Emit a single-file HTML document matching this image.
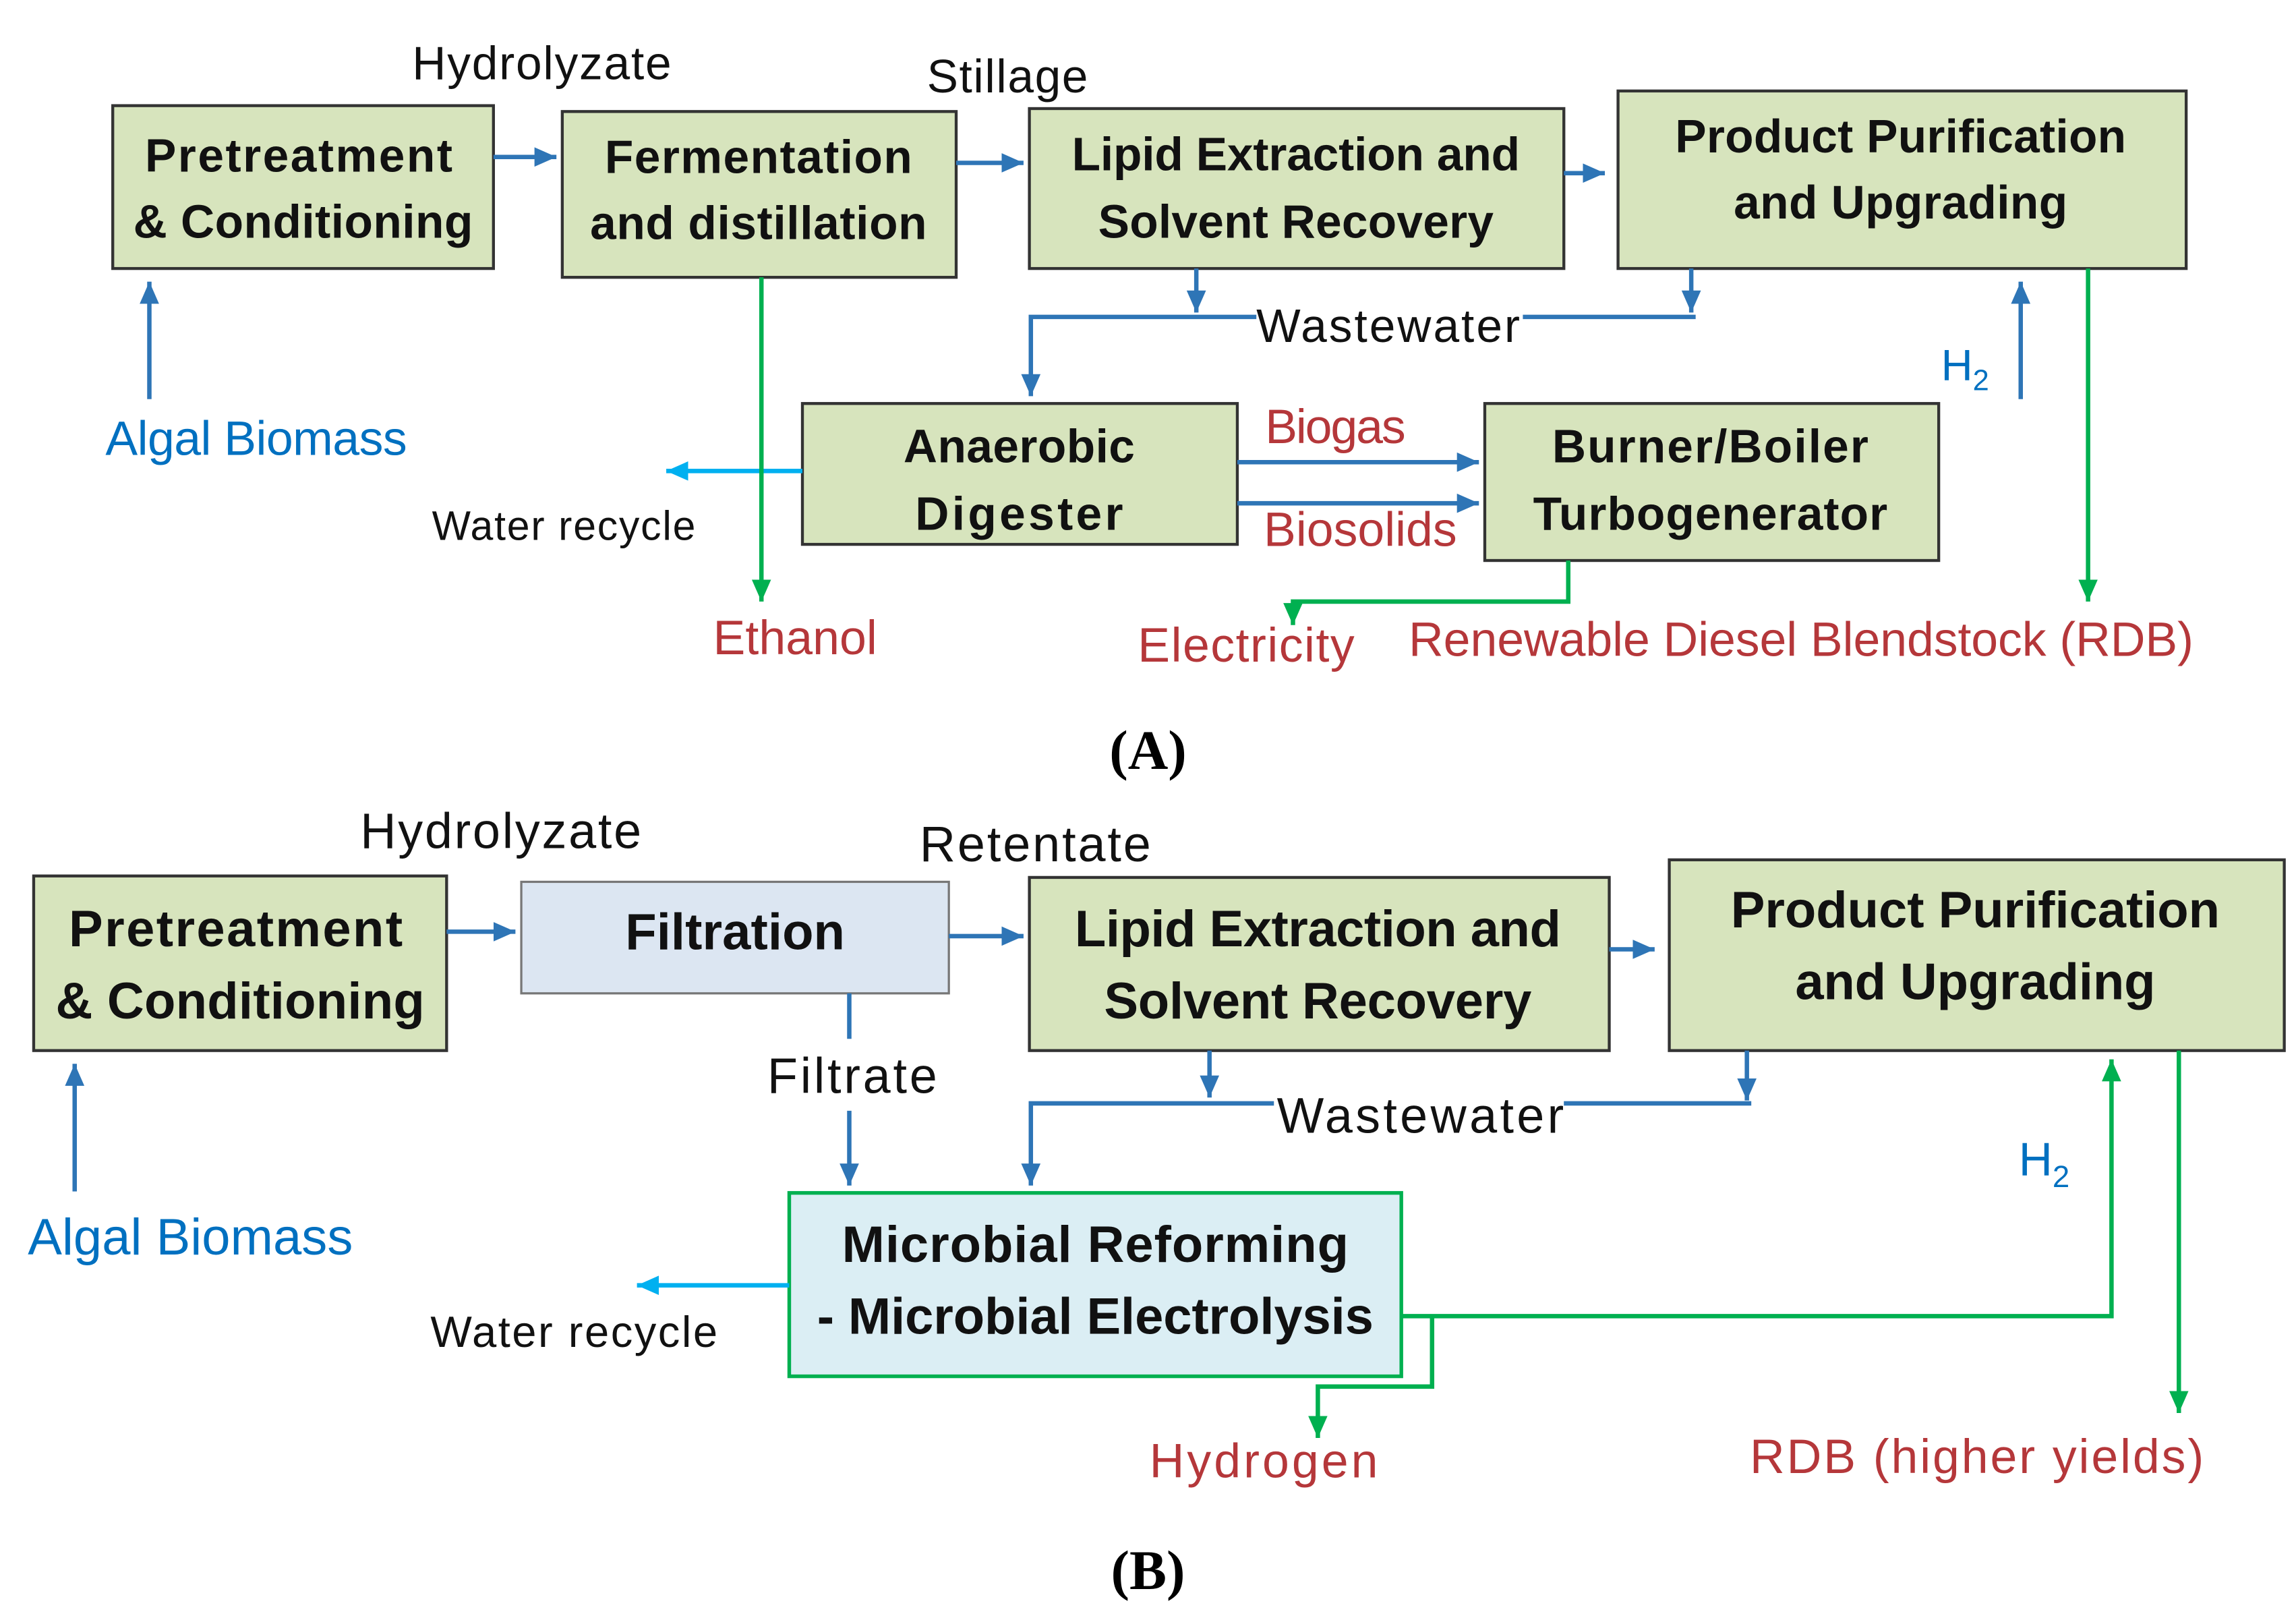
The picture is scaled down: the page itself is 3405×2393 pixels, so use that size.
<!DOCTYPE html>
<html><head><meta charset="utf-8"><style>
html,body{margin:0;padding:0;background:#fff;}
svg{display:block;}
text{font-family:"Liberation Sans",sans-serif;}
text.sf{font-family:"Liberation Serif",serif;}
.bx{font-weight:bold;fill:#111;text-anchor:middle;}
.lb{fill:#111;text-anchor:middle;}
.rd{fill:#b5373a;text-anchor:middle;font-size:33px;}
.bl{fill:#0070c0;text-anchor:middle;}
</style></head><body>
<svg width="3405" height="2393" viewBox="0 0 1568 1100" preserveAspectRatio="none" xmlns="http://www.w3.org/2000/svg">
<defs>
<marker id="ab" markerWidth="6" markerHeight="6" refX="5" refY="3" orient="auto" markerUnits="strokeWidth"><path d="M0,0.8 L5,3 L0,5.2z" fill="#2e75b6"/></marker>
<marker id="ag" markerWidth="6" markerHeight="6" refX="5" refY="3" orient="auto" markerUnits="strokeWidth"><path d="M0,0.8 L5,3 L0,5.2z" fill="#00b050"/></marker>
<marker id="al" markerWidth="6" markerHeight="6" refX="5" refY="3" orient="auto" markerUnits="strokeWidth"><path d="M0,0.8 L5,3 L0,5.2z" fill="#00b0f0"/></marker>
</defs>
<g fill="#d7e4bd" stroke="#333" stroke-width="2">
<rect x="77" y="72" width="260" height="111"/>
<rect x="384" y="76" width="269" height="113"/>
<rect x="703" y="74" width="365" height="109"/>
<rect x="1105" y="62" width="388" height="121"/>
<rect x="548" y="275" width="297" height="96"/>
<rect x="1014" y="275" width="310" height="107"/>
<rect x="23" y="597" width="282" height="119"/>
<rect x="703" y="598" width="396" height="118"/>
<rect x="1140" y="586" width="420" height="130"/>
</g>
<rect x="356" y="601" width="292" height="76" fill="#dce6f2" stroke="#777" stroke-width="1.5"/>
<rect x="539" y="813" width="418" height="125" fill="#dbeef4" stroke="#00b050" stroke-width="2.5"/>

<g class="bx" font-size="32">
<text x="204" y="117" textLength="210">Pretreatment</text><text x="207" y="162" textLength="232">&amp; Conditioning</text>
<text x="518" y="118" textLength="210">Fermentation</text><text x="518" y="163" textLength="230">and distillation</text>
<text x="885" y="116" textLength="306">Lipid Extraction and</text><text x="885" y="162" textLength="270">Solvent Recovery</text>
<text x="1298" y="104" textLength="308">Product Purification</text><text x="1298" y="149" textLength="228">and Upgrading</text>
<text x="696" y="315" textLength="158">Anaerobic</text><text x="696" y="361" textLength="142">Digester</text>
<text x="1168" y="315" textLength="216">Burner/Boiler</text><text x="1168" y="361" textLength="242">Turbogenerator</text>
</g>
<g class="bx" font-size="35">
<text x="161" y="645" textLength="228">Pretreatment</text><text x="164" y="694" textLength="252">&amp; Conditioning</text>
<text x="502" y="647" textLength="150">Filtration</text>
<text x="900" y="645" textLength="332">Lipid Extraction and</text><text x="900" y="694" textLength="292">Solvent Recovery</text>
<text x="1349" y="632" textLength="334">Product Purification</text><text x="1349" y="681" textLength="246">and Upgrading</text>
<text x="748" y="860" textLength="346">Microbial Reforming</text><text x="748" y="909" textLength="380">- Microbial Electrolysis</text>
</g>

<g stroke="#2e75b6" stroke-width="3" fill="none">
<path d="M337 107 H380" marker-end="url(#ab)"/>
<path d="M653 111 H699" marker-end="url(#ab)"/>
<path d="M1068 118 H1096" marker-end="url(#ab)"/>
<path d="M102 272 V192" marker-end="url(#ab)"/>
<path d="M817 183 V213" marker-end="url(#ab)"/>
<path d="M1155 183 V213" marker-end="url(#ab)"/>
<path d="M858 216 H704 V270" marker-end="url(#ab)"/>
<path d="M1040 216 H1158"/>
<path d="M845 315 H1010" marker-end="url(#ab)"/>
<path d="M845 343 H1010" marker-end="url(#ab)"/>
<path d="M1380 272 V192" marker-end="url(#ab)"/>
<path d="M305 635 H352" marker-end="url(#ab)"/>
<path d="M648 638 H699" marker-end="url(#ab)"/>
<path d="M1099 647 H1130" marker-end="url(#ab)"/>
<path d="M51 812 V725" marker-end="url(#ab)"/>
<path d="M580 677 V708"/>
<path d="M580 757 V808" marker-end="url(#ab)"/>
<path d="M826 716 V748" marker-end="url(#ab)"/>
<path d="M1193 716 V750" marker-end="url(#ab)"/>
<path d="M870 752 H704 V808" marker-end="url(#ab)"/>
<path d="M1068 752 H1196"/>
</g>
<g stroke="#00b0f0" stroke-width="3" fill="none">
<path d="M548 321 H455" marker-end="url(#al)"/>
<path d="M539 876 H435" marker-end="url(#al)"/>
</g>
<g stroke="#00b050" stroke-width="3" fill="none">
<path d="M520 189 V410" marker-end="url(#ag)"/>
<path d="M1071 382 V410 H883 V426" marker-end="url(#ag)"/>
<path d="M1426 183 V410" marker-end="url(#ag)"/>
<path d="M957 897 H1442 V722" marker-end="url(#ag)"/>
<path d="M978 897 V945 H900 V980" marker-end="url(#ag)"/>
<path d="M1488 716 V963" marker-end="url(#ag)"/>
</g>

<text class="lb" x="370" y="54" font-size="32" textLength="177">Hydrolyzate</text>
<text class="lb" x="688" y="63" font-size="32" textLength="110">Stillage</text>
<text class="lb" x="948" y="233" font-size="32" textLength="180">Wastewater</text>
<text class="bl" x="175" y="310" font-size="33" textLength="206">Algal Biomass</text>
<text class="lb" x="385" y="368" font-size="28" textLength="180">Water recycle</text>
<text class="rd" x="912" y="302" textLength="96">Biogas</text>
<text class="rd" x="929" y="372" textLength="132">Biosolids</text>
<text class="rd" x="543" y="446" textLength="112">Ethanol</text>
<text class="rd" x="851" y="451" textLength="148">Electricity</text>
<text class="rd" x="1230" y="447" textLength="536">Renewable Diesel Blendstock (RDB)</text>
<text class="bl" x="1342" y="259" font-size="30">H<tspan font-size="20" dy="7">2</tspan></text>
<text class="sf" x="784" y="524" text-anchor="middle" font-weight="bold" font-size="38">(A)</text>

<text class="lb" x="342" y="578" font-size="34" textLength="192">Hydrolyzate</text>
<text class="lb" x="707" y="587" font-size="34" textLength="158">Retentate</text>
<text class="lb" x="582" y="745" font-size="34" textLength="116">Filtrate</text>
<text class="lb" x="970" y="772" font-size="34" textLength="196">Wastewater</text>
<text class="bl" x="130" y="855" font-size="35" textLength="222">Algal Biomass</text>
<text class="lb" x="392" y="918" font-size="30" textLength="196">Water recycle</text>
<text class="rd" x="863" y="1007" font-size="34" textLength="156">Hydrogen</text>
<text class="rd" x="1350" y="1004" font-size="34" textLength="310">RDB (higher yields)</text>
<text class="bl" x="1396" y="801" font-size="32">H<tspan font-size="21" dy="8">2</tspan></text>
<text class="sf" x="784" y="1083" text-anchor="middle" font-weight="bold" font-size="38">(B)</text>
</svg>
</body></html>
